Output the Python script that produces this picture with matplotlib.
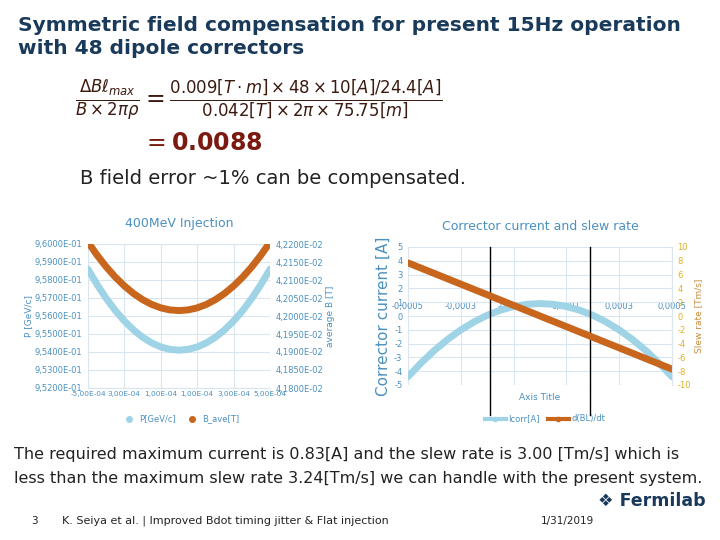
import matplotlib
matplotlib.use("Agg")
import matplotlib.pyplot as plt
from matplotlib.lines import Line2D
from matplotlib.ticker import FuncFormatter
plt.rcParams["axes.unicode_minus"] = False

# ---- data ----
x_left = [-5e-4, -4.5e-4, -4e-4, -3.5e-4, -3e-4, -2.5e-4, -2e-4, -1.5e-4, -1e-4, -0.5e-4, 0,
          0.5e-4, 1e-4, 1.5e-4, 2e-4, 2.5e-4, 3e-4, 3.5e-4, 4e-4, 4.5e-4, 5e-4]
p_half = [0.9586, 0.957745, 0.95698, 0.956305, 0.95572, 0.955225, 0.95482, 0.954505, 0.95428, 0.954145]
p_gev = p_half + [0.9541] + p_half[::-1]
b_half = [4.2205e-2, 4.21689e-2, 4.21366e-2, 4.21081e-2, 4.20834e-2, 4.20625e-2, 4.20454e-2, 4.20321e-2, 4.20226e-2, 4.20169e-2]
b_ave = b_half + [4.2015e-2] + b_half[::-1]
x_right = x_left
i_half = [-4.4, -3.393, -2.492, -1.697, -1.008, -0.425, 0.052, 0.423, 0.688, 0.847]
i_corr = i_half + [0.9] + i_half[::-1]
slew = [7.7, 6.93, 6.16, 5.39, 4.62, 3.85, 3.08, 2.31, 1.54, 0.77, 0.0,
        -0.77, -1.54, -2.31, -3.08, -3.85, -4.62, -5.39, -6.16, -6.93, -7.7]
x_marks = [-0.00019, 0.00019]

W, H = 720, 540
fig = plt.figure(figsize=(7.2, 5.4), dpi=100)
def ax_px(x0, y0, x1, y1):
    return fig.add_axes([x0 / W, 1 - y1 / H, (x1 - x0) / W, (y1 - y0) / H])

LB = "#4a90c0"
LIGHT = "#9fd3e6"
ORANGE = "#c9661d"
GRID = "#d9e6f0"
LK = dict(solid_capstyle="round", solid_joinstyle="round")

# title
fig.text(18 / W, 1 - 16 / H, "Symmetric field compensation for present 15Hz operation\nwith 48 dipole correctors",
         fontsize=14.5, fontweight="bold", color="#1a3a5c", va="top", linespacing=1.3)
fig.text(75 / W, 1 - 100 / H,
         r"$\frac{\Delta B\ell_{max}}{B\times2\pi\rho}=\frac{0.009[T\cdot m]\times48\times10[A]/24.4[A]}{0.042[T]\times2\pi\times75.75[m]}$",
         fontsize=17, color="#3b1a10", va="center")
fig.text(142 / W, 1 - 143 / H, r"$=\mathbf{0.0088}$", fontsize=17, color="#7a1a10", va="center")
fig.text(80 / W, 1 - 178 / H, "B field error ~1% can be compensated.", fontsize=14, color="#222222", va="center")

# left chart
ax = ax_px(88, 244, 270, 388)
ax.plot(x_left, p_gev, color=LIGHT, lw=5, **LK)
ax.set_xlim(-5e-4, 5e-4)
ax.set_ylim(0.952, 0.960)
ax.set_yticks([0.952 + 0.001 * i for i in range(9)])
ax.yaxis.set_major_formatter(FuncFormatter(lambda v, p: ("%.4fE-01" % (v * 10)).replace(".", ",")))
ax.set_xticks([-5e-4, -3e-4, -1e-4, 1e-4, 3e-4, 5e-4])
ax.set_xticklabels(["-5,00E-04", "3,00E-04", "1,00E-04", "1,00E-04", "3,00E-04", "5,00E-04"])
ax.grid(color=GRID, lw=0.8)
ax.set_ylabel("P [GeV/c]", fontsize=6.5, color=LB, labelpad=1)
ax.set_title("400MeV Injection", fontsize=9, color=LB, pad=12)
ax2 = ax.twinx()
ax2.plot(x_left, b_ave, color=ORANGE, lw=5, **LK)
ax2.set_ylim(4.18e-2, 4.22e-2)
ax2.set_yticks([4.18e-2 + 0.005e-2 * i for i in range(9)])
ax2.yaxis.set_major_formatter(FuncFormatter(lambda v, p: ("%.4fE-02" % (v * 100)).replace(".", ",")))
ax2.set_ylabel("average B [T]", fontsize=6.5, color=LB, labelpad=2)
for a in (ax, ax2):
    a.tick_params(labelsize=6, colors=LB, length=0, pad=4)
    for s in a.spines.values():
        s.set_visible(False)
ax.tick_params(axis="x", pad=2, labelsize=5.3)
ax.spines["bottom"].set_visible(True); ax.spines["bottom"].set_color(GRID)
fig.legend(handles=[Line2D([], [], color=LIGHT, marker="o", ls="", ms=4),
                    Line2D([], [], color=ORANGE, marker="o", ls="", ms=4)],
           labels=["P[GeV/c]", "B_ave[T]"], loc="center", bbox_to_anchor=(180 / W, 1 - 419 / H),
           ncol=2, frameon=False, fontsize=6, labelcolor=LB, handletextpad=0.2, columnspacing=1)

# right chart
bx = ax_px(408, 247, 672, 385)
bx.plot(x_right, i_corr, color=LIGHT, lw=5, **LK)
bx.set_xlim(-5e-4, 5e-4)
bx.set_ylim(-5, 5)
bx.set_yticks(range(-5, 6))
bx.set_xticks([-5e-4, -3e-4, -1e-4, 1e-4, 3e-4, 5e-4])
bx.set_xticklabels(["-0,0005", "-0,0003", "-0,0001", "0,0001", "0,0003", "0,0005"])
bx.spines["bottom"].set_position(("data", 0))
bx.grid(color=GRID, lw=0.8)
bx.set_ylabel("Corrector current [A]", fontsize=11, color=LB, labelpad=2)
bx.set_title("Corrector current and slew rate", fontsize=9, color=LB, pad=12)
bx.text(0, -5.6, "Axis Title", ha="center", va="top", fontsize=6.5, color=LB)
bx2 = bx.twinx()
bx2.plot(x_right, slew, color=ORANGE, lw=5, **LK)
bx2.set_ylim(-10, 10)
bx2.set_yticks(range(-10, 11, 2))
bx2.set_ylabel("Slew rate [Tm/s]", fontsize=6.5, color="#c98a3a", labelpad=2)
bx2.tick_params(axis="y", colors="#e0b020")
for a in (bx, bx2):
    a.tick_params(labelsize=6, length=0, pad=4)
    for s in a.spines.values():
        s.set_visible(False)
bx.tick_params(colors=LB)
bx.tick_params(axis="x", pad=-10)
bx2.spines["right"].set_visible(True); bx2.spines["right"].set_color(GRID)
for xm in x_marks:
    bx.plot([xm, xm], [5, -7.2], color="black", lw=1, clip_on=False)
fig.legend(handles=[Line2D([], [], color=LIGHT, marker="o", lw=3, ms=3),
                    Line2D([], [], color=ORANGE, marker="o", lw=3, ms=3)],
           labels=["Icorr[A]", "d(BL)/dt"], loc="center", bbox_to_anchor=(545 / W, 1 - 419 / H),
           ncol=2, frameon=False, fontsize=6, labelcolor=LB, handletextpad=0.3, columnspacing=1, handlelength=2.5)

# bottom text
fig.text(14 / W, 1 - 455 / H, "The required maximum current is 0.83[A] and the slew rate is 3.00 [Tm/s] which is",
         fontsize=11.5, color="#222222", va="center")
fig.text(14 / W, 1 - 479 / H, "less than the maximum slew rate 3.24[Tm/s] we can handle with the present system.",
         fontsize=11.5, color="#222222", va="center")
fig.text(598 / W, 1 - 501 / H, "\u2756 Fermilab", fontsize=12.5, fontweight="bold", color="#1a3a5c", va="center")
fig.text(34 / W, 1 - 521 / H, "3", fontsize=7.5, color="#222222", va="center", ha="center")
fig.text(62 / W, 1 - 521 / H, "K. Seiya et al. | Improved Bdot timing jitter & Flat injection", fontsize=8,
         color="#222222", va="center")
fig.text(567 / W, 1 - 521 / H, "1/31/2019", fontsize=7.5, color="#222222", va="center", ha="center")

fig.savefig("out.png", dpi=100)
